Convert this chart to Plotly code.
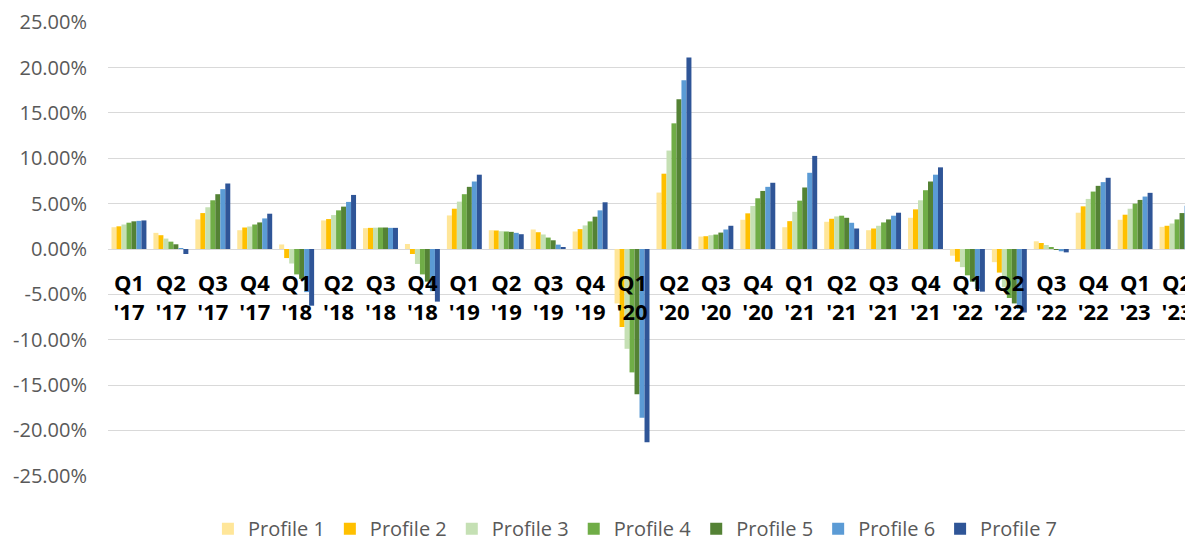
import plotly.graph_objects as go

quarters = ["Q1", "Q2", "Q3", "Q4"] * 6 + ["Q1", "Q2"]
years = ["'17"] * 4 + ["'18"] * 4 + ["'19"] * 4 + ["'20"] * 4 + ["'21"] * 4 + ["'22"] * 4 + ["'23"] * 2
categories = [f"{q}<br>{y}" for q, y in zip(quarters, years)]

profile_1 = [2.4, 1.78, 3.26, 2.07, 0.5, 3.15, 2.3, 0.55, 3.7, 2.07, 2.15, 1.93, -6.0, 6.22, 1.37, 3.22, 2.4, 3.0, 2.07, 3.44, -0.74, -1.45, 0.85, 4.0, 3.22, 2.44]
profile_2 = [2.5, 1.52, 3.96, 2.37, -1.0, 3.3, 2.33, -0.55, 4.44, 2.04, 1.85, 2.19, -8.6, 8.3, 1.41, 3.93, 3.07, 3.33, 2.26, 4.37, -1.4, -2.6, 0.66, 4.7, 3.78, 2.56]
profile_3 = [2.7, 1.15, 4.6, 2.48, -1.6, 3.74, 2.35, -1.65, 5.22, 1.96, 1.6, 2.6, -11.0, 10.85, 1.52, 4.74, 4.1, 3.59, 2.56, 5.37, -2.0, -4.2, 0.44, 5.52, 4.44, 2.81]
profile_4 = [2.9, 0.81, 5.37, 2.7, -2.8, 4.26, 2.37, -2.8, 6.04, 1.93, 1.26, 3.04, -13.6, 13.85, 1.59, 5.59, 5.33, 3.67, 2.93, 6.48, -2.9, -5.4, 0.2, 6.33, 5.0, 3.26]
profile_5 = [3.05, 0.52, 6.04, 2.93, -3.3, 4.67, 2.37, -3.6, 6.85, 1.89, 0.96, 3.56, -16.0, 16.5, 1.81, 6.4, 6.78, 3.44, 3.26, 7.44, -3.6, -6.0, -0.05, 6.96, 5.41, 3.96]
profile_6 = [3.1, 0.1, 6.6, 3.37, -4.75, 5.19, 2.33, -4.65, 7.44, 1.78, 0.48, 4.26, -18.6, 18.6, 2.15, 6.85, 8.4, 2.89, 3.67, 8.19, -4.4, -6.6, -0.25, 7.37, 5.78, 4.78]
profile_7 = [3.15, -0.55, 7.22, 3.89, -6.25, 5.96, 2.33, -5.8, 8.19, 1.63, 0.15, 5.15, -21.3, 21.1, 2.56, 7.3, 10.26, 2.26, 4.0, 9.0, -4.7, -7.0, -0.37, 7.85, 6.19, 5.7]

series_names = ["Profile 1", "Profile 2", "Profile 3", "Profile 4", "Profile 5", "Profile 6", "Profile 7"]
series_values = [profile_1, profile_2, profile_3, profile_4, profile_5, profile_6, profile_7]
colors = ["#FFE699", "#FFC000", "#C5E0B4", "#70AD47", "#548235", "#5B9BD5", "#2F5597"]

y_tickvals = [-25, -20, -15, -10, -5, 0, 5, 10, 15, 20, 25]
y_ticktext = ["-25.00%", "-20.00%", "-15.00%", "-10.00%", "-5.00%", "0.00%", "5.00%", "10.00%", "15.00%", "20.00%", "25.00%"]

fig = go.Figure()
for name, vals, col in zip(series_names, series_values, colors):
    fig.add_trace(go.Bar(x=categories, y=vals, name=name, marker=dict(color=col, line=dict(width=0))))

fig.update_layout(
    width=1185, height=560,
    margin=dict(l=100, r=0, t=14, b=92),
    paper_bgcolor="white", plot_bgcolor="white",
    barmode="group", bargap=7/42, bargroupgap=0,
    font=dict(family="Open Sans", color="#595959"),
    legend=dict(orientation="h", x=0.487, xanchor="center", y=-0.116, yanchor="middle",
                font=dict(size=20, color="#595959", family="Open Sans"),
                itemsizing="constant"),
    xaxis=dict(type="category", range=[-0.5, 25.333], anchor="free", position=0.5,
               showgrid=False, showline=False, zeroline=False, ticks="",
               tickfont=dict(size=22, color="black", family="Open Sans", weight="bold"),
               ticklabelstandoff=19, tickangle=0),
    yaxis=dict(range=[-25.02, 25.02], tickvals=y_tickvals, ticktext=y_ticktext,
               showgrid=True, gridcolor="#D9D9D9", gridwidth=1.4,
               zeroline=True, zerolinecolor="#D9D9D9", zerolinewidth=1.4,
               showline=False, ticks="", ticklabelstandoff=20,
               tickfont=dict(size=20, color="#595959", family="Open Sans")),
)

fig.write_html("out.html")
